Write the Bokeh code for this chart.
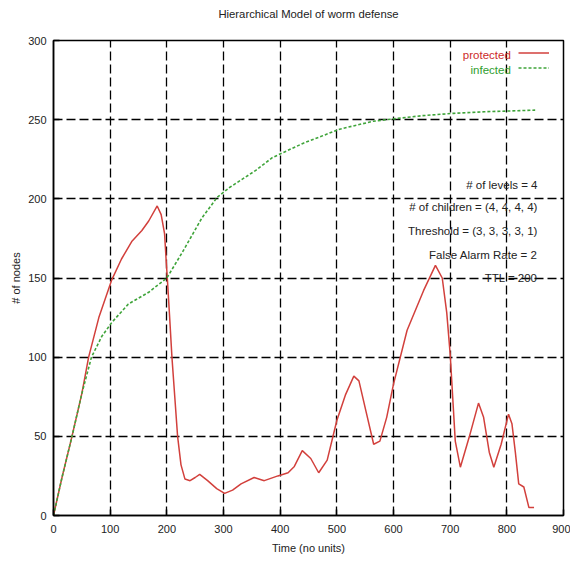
from bokeh.plotting import figure
from bokeh.models import Label, Legend, LegendItem, FixedTicker, Range1d, Title
from bokeh.embed import file_html
from bokeh.resources import INLINE

# ---- data ----
protected_t = [0, 15, 32, 50, 62, 80, 103, 120, 138, 156, 168, 183, 190, 196, 199, 201, 205, 209, 214, 219,
               225, 232, 241, 250, 258, 272, 288, 302, 316, 331, 354, 372, 396, 414, 425, 439, 454, 468, 483,
               500, 515, 530, 539, 552, 565, 576, 588, 600, 624, 653, 674, 686, 694, 700, 709, 718, 734, 750,
               759, 769, 777, 790, 803, 809, 815, 821, 830, 839, 848]
protected_n = [0, 24, 49, 77, 100, 125, 149, 162, 173, 180, 186, 195.5, 190, 178, 160, 149, 125, 100, 75, 50,
               32, 23, 22, 24, 26, 22, 17, 14, 16, 20, 24, 22, 25, 27, 31, 41, 36, 27, 35,
               60, 76, 88, 85, 65, 45, 47, 62, 83, 117, 142, 158, 150, 128, 102, 47, 30.5, 50, 71,
               62, 40, 30.5, 45, 64, 58, 40, 20, 18, 5, 5]

infected_t = [0, 15, 32, 50, 67, 85, 103, 132, 168, 200, 227, 262, 289, 310, 357, 386, 404, 440, 505, 564,
              605, 650, 706, 760, 806, 850]
infected_n = [0, 24, 49, 77, 100, 113, 122, 133.5, 141, 150, 166, 188, 201, 207, 218, 226, 229, 235, 244, 249,
              250.7, 252.5, 254, 255, 255.5, 256]

x_ticks = [0, 100, 200, 300, 400, 500, 600, 700, 800, 900]
y_ticks = [0, 50, 100, 150, 200, 250, 300]

title_text = "Hierarchical Model of worm defense"
params = ["# of levels = 4", "# of children = (4, 4, 4, 4)", "Threshold = (3, 3, 3, 3, 1)",
          "False Alarm Rate = 2", "TTL = 200"]
params_y = [208.8, 194.7, 179.5, 164.5, 150]

FONT = "Liberation Sans Narrow, Liberation Sans, Arial"
TXT = "#222222"
RED = "#d2403c"
GREEN = "#3fa43a"

p = figure(width=570, height=558, output_backend="svg", toolbar_location=None,
           x_range=Range1d(0, 900), y_range=Range1d(0, 300),
           min_border_left=53, min_border_right=7, min_border_top=39, min_border_bottom=43)

# small spacer panel between frame and title, then the title itself
p.add_layout(Title(text=" ", text_font_size="12px", standoff=0), "above")
p.add_layout(Title(text=title_text, align="center", text_font="Liberation Sans",
                   text_font_size="11.3px", text_font_style="normal", text_color=TXT), "above")

p.outline_line_color = "black"
p.outline_line_width = 1.5
p.background_fill_color = "white"
p.border_fill_color = "white"

for ax in (p.xaxis[0], p.yaxis[0]):
    ax.axis_line_color = "black"
    ax.axis_line_width = 1.5
    ax.major_tick_in = 6
    ax.major_tick_out = 0
    ax.major_tick_line_width = 1.5
    ax.minor_tick_line_color = None
    ax.major_label_text_font = FONT
    ax.major_label_text_font_size = "11px"
    ax.major_label_text_color = TXT
    ax.axis_label_text_font = FONT
    ax.axis_label_text_font_size = "11px"
    ax.axis_label_text_font_style = "normal"
    ax.axis_label_text_color = TXT

p.xaxis.ticker = FixedTicker(ticks=x_ticks)
p.yaxis.ticker = FixedTicker(ticks=y_ticks)
p.xaxis.axis_label = "Time (no units)"
p.yaxis.axis_label = "# of nodes"
p.xaxis.major_label_standoff = 9
p.xaxis.axis_label_standoff = 6
p.yaxis.major_label_standoff = 7
p.yaxis.axis_label_standoff = 3

p.grid.grid_line_color = "black"
p.grid.grid_line_width = 1.3
p.grid.grid_line_dash = "9 4"

r_prot = p.line(protected_t, protected_n, line_color=RED, line_width=1.5)
r_inf = p.line(infected_t, infected_n, line_color=GREEN, line_width=1.6, line_dash="3 2")

legend = Legend(items=[LegendItem(label=" ", renderers=[r_prot]),
                       LegendItem(label=" ", renderers=[r_inf])],
                location=(465, 440), padding=0, margin=0, spacing=0,
                glyph_width=31, glyph_height=15, label_height=15, label_width=0,
                label_standoff=0, label_text_font_size="6px",
                background_fill_alpha=0, border_line_alpha=0)
p.add_layout(legend, "center")

p.add_layout(Label(x=807, y=291, text="protected", text_align="right", text_baseline="middle",
                   text_font=FONT, text_font_size="11.5px", text_color="#cc2a2a"))
p.add_layout(Label(x=807, y=281.5, text="infected", text_align="right", text_baseline="middle",
                   text_font=FONT, text_font_size="11.5px", text_color="#2f9e2f"))

for t, yy in zip(params, params_y):
    p.add_layout(Label(x=854, y=yy, text=t, text_align="right", text_baseline="middle",
                       text_font=FONT, text_font_size="11.5px", text_color=TXT))

open("out.html", "w").write(file_html(p, INLINE))
